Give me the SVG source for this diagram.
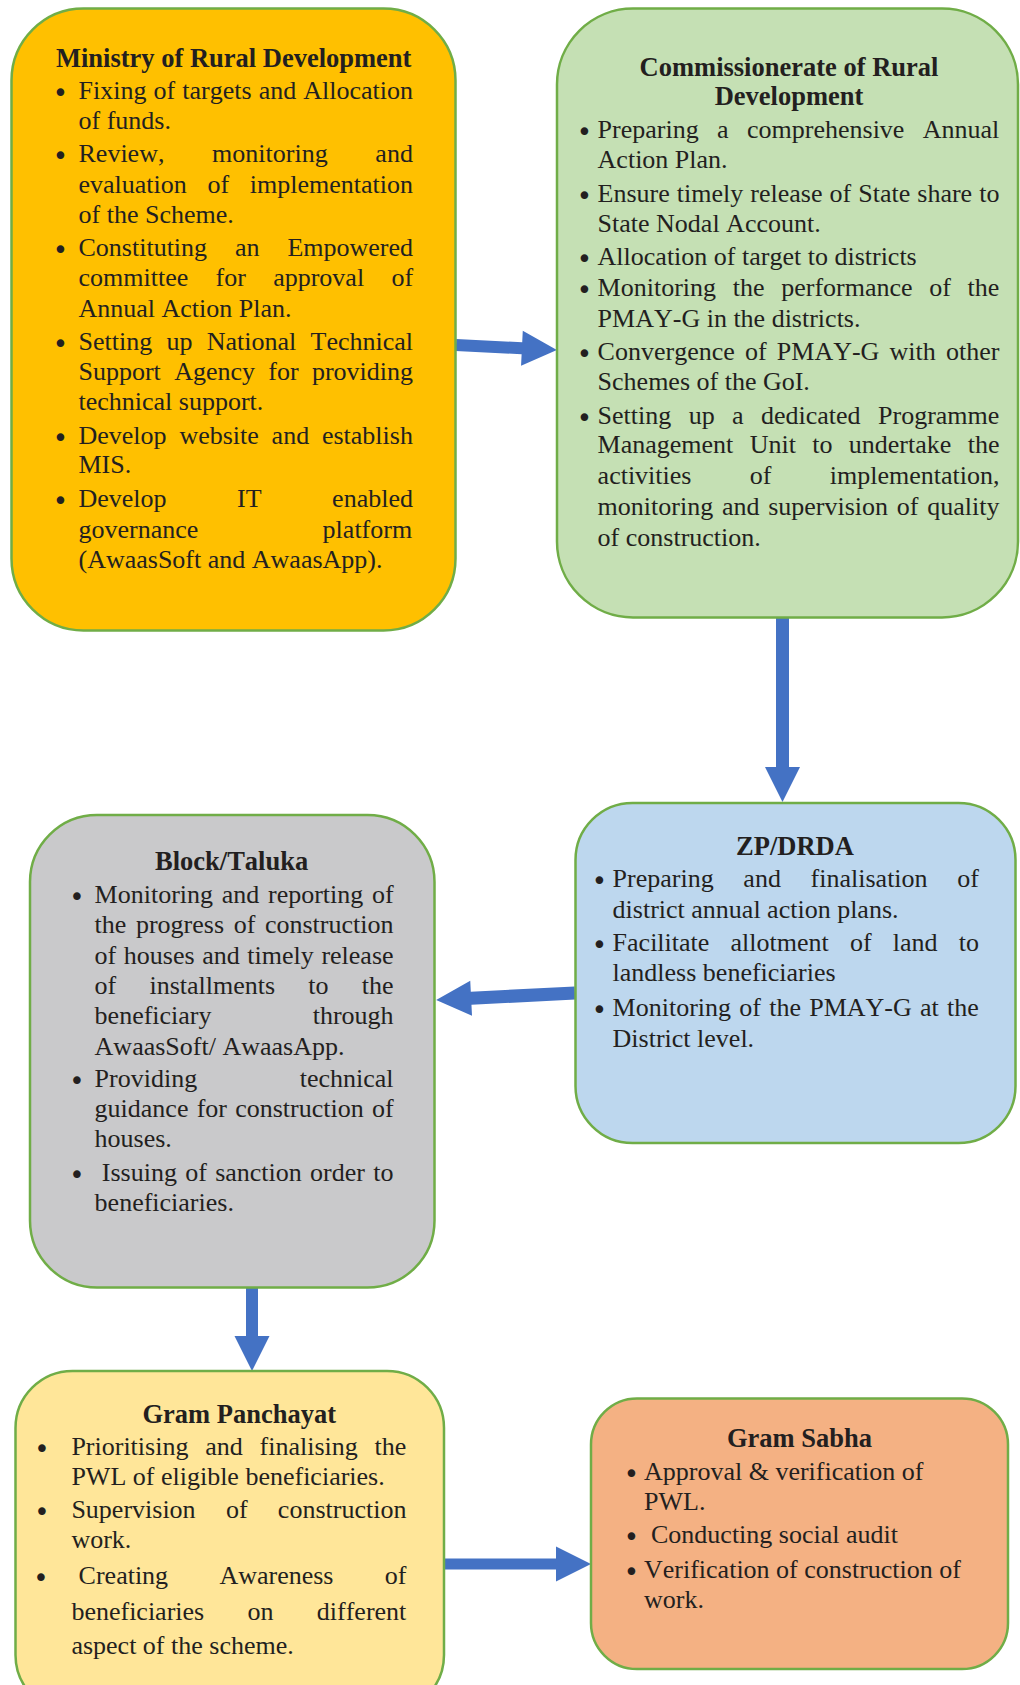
<svg xmlns="http://www.w3.org/2000/svg" width="1020" height="1685" viewBox="0 0 1020 1685">
<defs>
<style>
.box { stroke: #70AD47; stroke-width: 2.5; }
.t { font-family: "Liberation Serif", "Times New Roman", serif; font-size: 26px; fill: #231f20; font-kerning: none; }
.h { font-family: "Liberation Serif", "Times New Roman", serif; font-size: 26.5px; font-weight: bold; fill: #231f20; text-anchor: middle; font-kerning: none; }
.b { font-family: "DejaVu Sans", sans-serif; font-size: 26px; fill: #231f20; text-anchor: middle; }
.arrow { fill: #4472C4; }
</style>
</defs>
<rect width="1020" height="1685" fill="#ffffff"/>

<g id="connectors">
<path class="arrow" transform="translate(456,345) rotate(2.83)" d="M0,-6 H66 V-17.5 L101,0 L66,17.5 V6 H0 Z"/>
<path class="arrow" transform="translate(782.5,618) rotate(90)" d="M0,-6.5 H149 V-17.5 L184,0 L149,17.5 V6.5 H0 Z"/>
<path class="arrow" transform="translate(575,993) rotate(177.12)" d="M0,-6.5 H104 V-17.5 L139,0 L104,17.5 V6.5 H0 Z"/>
<path class="arrow" transform="translate(252,1288) rotate(90)" d="M0,-6 H48 V-17.5 L83,0 L48,17.5 V6 H0 Z"/>
<path class="arrow" transform="translate(444,1564) rotate(0)" d="M0,-5.5 H112 V-17.5 L147,0 L112,17.5 V5.5 H0 Z"/>
</g>

<g id="ministry">
<rect class="box" x="11.5" y="8.5" width="444" height="622" rx="72" ry="72" fill="#FFC000"/>
<text class="h" x="233.7" y="66.5">Ministry of Rural Development</text>
<g transform="translate(0,3)">
<text class="b" x="60.5" y="98.7">•</text>
<text class="b" x="60.5" y="162">•</text>
<text class="b" x="60.5" y="256">•</text>
<text class="b" x="60.5" y="349.7">•</text>
<text class="b" x="60.5" y="443.5">•</text>
<text class="b" x="60.5" y="507">•</text>
</g>
<text class="t" x="78.5" y="98.7" word-spacing="0.6">Fixing of targets and Allocation</text>
<text class="t" x="78.5" y="128.5">of funds.</text>
<text class="t" x="78.5" y="162" word-spacing="41.2">Review, monitoring and</text>
<text class="t" x="78.5" y="192.6" word-spacing="14.15">evaluation of implementation</text>
<text class="t" x="78.5" y="222.8">of the Scheme.</text>
<text class="t" x="78.5" y="256" word-spacing="21.4">Constituting an Empowered</text>
<text class="t" x="78.5" y="285.6" word-spacing="20.8">committee for approval of</text>
<text class="t" x="78.5" y="317">Annual Action Plan.</text>
<text class="t" x="78.5" y="349.7" word-spacing="7.8">Setting up National Technical</text>
<text class="t" x="78.5" y="380" word-spacing="6.8">Support Agency for providing</text>
<text class="t" x="78.5" y="410">technical support.</text>
<text class="t" x="78.5" y="443.5" word-spacing="6.3">Develop website and establish</text>
<text class="t" x="78.5" y="473">MIS.</text>
<text class="t" x="78.5" y="507" word-spacing="64">Develop IT enabled</text>
<text class="t" x="78.5" y="537.7" word-spacing="117.8">governance platform</text>
<text class="t" x="78.5" y="568">(AwaasSoft and AwaasApp).</text>
</g>

<g id="commissionerate">
<rect class="box" x="557" y="8.5" width="461" height="609" rx="76" ry="76" fill="#C5E0B4"/>
<text class="h" x="789" y="75.5">Commissionerate of Rural</text>
<text class="h" x="789" y="105.3">Development</text>
<g transform="translate(0,3)">
<text class="b" x="584.5" y="138">•</text>
<text class="b" x="584.5" y="202">•</text>
<text class="b" x="584.5" y="264.5">•</text>
<text class="b" x="584.5" y="296">•</text>
<text class="b" x="584.5" y="360">•</text>
<text class="b" x="584.5" y="423.7">•</text>
</g>
<text class="t" x="597.6" y="138" word-spacing="11.9">Preparing a comprehensive Annual</text>
<text class="t" x="597.6" y="168">Action Plan.</text>
<text class="t" x="597.6" y="202" word-spacing="0.55">Ensure timely release of State share to</text>
<text class="t" x="597.6" y="231.8">State Nodal Account.</text>
<text class="t" x="597.6" y="264.5">Allocation of target to districts</text>
<text class="t" x="597.6" y="296" word-spacing="10.2">Monitoring the performance of the</text>
<text class="t" x="597.6" y="326.5">PMAY-G in the districts.</text>
<text class="t" x="597.6" y="360" word-spacing="3.7">Convergence of PMAY-G with other</text>
<text class="t" x="597.6" y="389.8">Schemes of the GoI.</text>
<text class="t" x="597.6" y="423.7" word-spacing="10.9">Setting up a dedicated Programme</text>
<text class="t" x="597.6" y="453" word-spacing="9.85">Management Unit to undertake the</text>
<text class="t" x="597.6" y="483.7" word-spacing="51.8">activities of implementation,</text>
<text class="t" x="597.6" y="515" word-spacing="2.25">monitoring and supervision of quality</text>
<text class="t" x="597.6" y="546">of construction.</text>
</g>

<g id="zp-drda">
<rect class="box" x="575.5" y="803" width="440" height="340" rx="57" ry="57" fill="#BDD7EE"/>
<text class="h" x="795" y="855">ZP/DRDA</text>
<g transform="translate(0,3)">
<text class="b" x="599.5" y="886.7">•</text>
<text class="b" x="599.5" y="950.5">•</text>
<text class="b" x="599.5" y="1015.5">•</text>
</g>
<text class="t" x="612.6" y="886.7" word-spacing="23.2">Preparing and finalisation of</text>
<text class="t" x="612.6" y="917.5">district annual action plans.</text>
<text class="t" x="612.6" y="950.5" word-spacing="14.7">Facilitate allotment of land to</text>
<text class="t" x="612.6" y="981">landless beneficiaries</text>
<text class="t" x="612.6" y="1015.5" word-spacing="1.76">Monitoring of the PMAY-G at the</text>
<text class="t" x="612.6" y="1046.7">District level.</text>
</g>

<g id="block-taluka">
<rect class="box" x="30" y="815" width="404.5" height="472.5" rx="67" ry="67" fill="#C9C9CB"/>
<text class="h" x="231.6" y="869.5">Block/Taluka</text>
<g transform="translate(0,3)">
<text class="b" x="77" y="902.7">•</text>
<text class="b" x="77" y="1086.7">•</text>
<text class="b" x="77" y="1181.2">•</text>
</g>
<text class="t" x="94.6" y="902.7" word-spacing="2.2">Monitoring and reporting of</text>
<text class="t" x="94.6" y="933.2" word-spacing="3.1">the progress of construction</text>
<text class="t" x="94.6" y="963.5" word-spacing="1.1">of houses and timely release</text>
<text class="t" x="94.6" y="994" word-spacing="26.7">of installments to the</text>
<text class="t" x="94.6" y="1024" word-spacing="94.7">beneficiary through</text>
<text class="t" x="94.6" y="1054.6">AwaasSoft/ AwaasApp.</text>
<text class="t" x="94.6" y="1086.7" word-spacing="96.1">Providing technical</text>
<text class="t" x="94.6" y="1117.2" word-spacing="1.7">guidance for construction of</text>
<text class="t" x="94.6" y="1147.4">houses.</text>
<text class="t" x="101.8" y="1181.2" word-spacing="1.8">Issuing of sanction order to</text>
<text class="t" x="94.6" y="1211">beneficiaries.</text>
</g>

<g id="gram-panchayat">
<rect class="box" x="15.5" y="1371" width="428.5" height="341" rx="57" ry="57" fill="#FFE699"/>
<text class="h" x="239.3" y="1423">Gram Panchayat</text>
<g transform="translate(0,3)">
<text class="b" x="42" y="1455">•</text>
<text class="b" x="42" y="1518.3">•</text>
<text class="b" x="41" y="1584">•</text>
</g>
<text class="t" x="71.4" y="1455" word-spacing="10.3">Prioritising and finalising the</text>
<text class="t" x="71.4" y="1485">PWL of eligible beneficiaries.</text>
<text class="t" x="71.4" y="1518.3" word-spacing="23.8">Supervision of construction</text>
<text class="t" x="71.4" y="1548.3">work.</text>
<text class="t" x="78.6" y="1584" word-spacing="44.8">Creating Awareness of</text>
<text class="t" x="71.4" y="1620" word-spacing="36.8">beneficiaries on different</text>
<text class="t" x="71.4" y="1654.3">aspect of the scheme.</text>
</g>

<g id="gram-sabha">
<rect class="box" x="591" y="1398.5" width="417" height="270.5" rx="46" ry="46" fill="#F4B183"/>
<text class="h" x="799.5" y="1447.3">Gram Sabha</text>
<g transform="translate(0,3)">
<text class="b" x="631.5" y="1480">•</text>
<text class="b" x="631.5" y="1543.3">•</text>
<text class="b" x="631.5" y="1578.3">•</text>
</g>
<text class="t" x="644" y="1480">Approval &amp; verification of</text>
<text class="t" x="644" y="1510">PWL.</text>
<text class="t" x="651" y="1543.3">Conducting social audit</text>
<text class="t" x="644" y="1578.3">Verification of construction of</text>
<text class="t" x="644" y="1608.3">work.</text>
</g>
</svg>
